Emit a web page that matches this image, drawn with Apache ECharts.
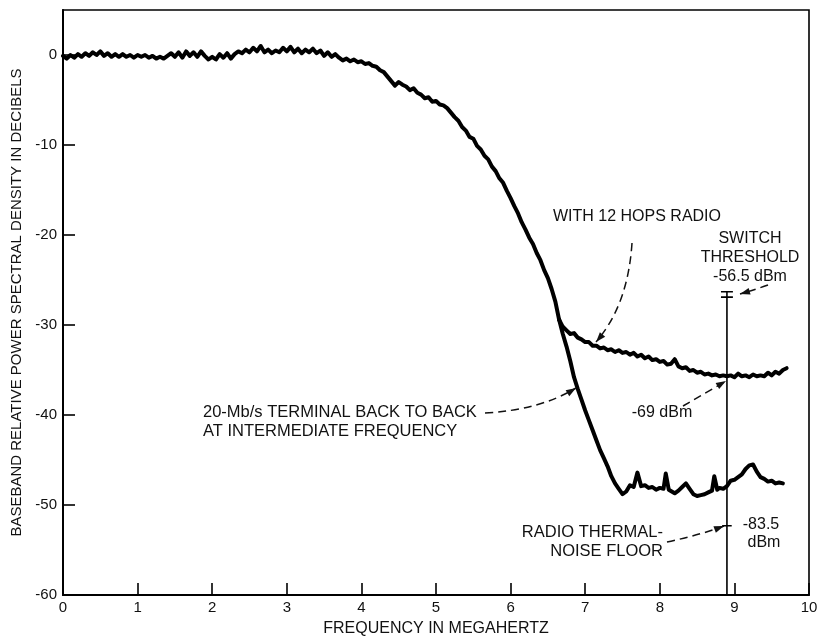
<!DOCTYPE html>
<html>
<head>
<meta charset="utf-8">
<script src="https://cdn.jsdelivr.net/npm/echarts@6/dist/echarts.min.js"></script>
<style>
html,body{margin:0;padding:0;background:#fff;}
#chart{width:819px;height:636px;}
</style>
</head>
<body>
<div id="chart"></div>
<script>
// ---- data (frequency MHz, relative PSD dB) ----
var commonFreq = [0.00,0.05,0.10,0.15,0.20,0.25,0.30,0.35,0.40,0.45,0.50,0.55,0.60,0.65,0.70,0.75,0.80,0.85,0.90,0.95,
1.00,1.05,1.10,1.15,1.20,1.25,1.30,1.35,1.40,1.45,1.50,1.55,1.60,1.65,1.70,1.75,1.80,1.85,1.90,1.95,
2.00,2.05,2.10,2.15,2.20,2.25,2.30,2.35,2.40,2.45,2.50,2.55,2.60,2.65,2.70,2.75,2.80,2.85,2.90,2.95,
3.00,3.05,3.10,3.15,3.20,3.25,3.30,3.35,3.40,3.45,3.50,3.55,3.60,3.65,3.70,3.75,3.80,3.85,3.90,3.95,
4.00,4.05,4.10,4.15,4.20,4.25,4.30,4.35,4.40,4.45,4.50,4.55,4.60,4.65,4.70,4.75,4.80,4.85,4.90,4.95,
5.00,5.05,5.10,5.15,5.20,5.25,5.30,5.35,5.40,5.45,5.50,5.55,5.60,5.65,5.70,5.75,5.80,5.85,5.90,5.95,
6.00,6.05,6.10,6.15,6.20,6.25,6.30,6.35,6.40,6.45,6.50,6.55,6.60,6.65];
var commonDb = [-0.1,-0.4,0.0,-0.3,0.1,-0.2,0.2,-0.1,0.3,0.0,0.4,-0.1,0.2,-0.2,0.1,-0.2,0.1,-0.2,0.0,-0.3,
0.0,-0.2,0.0,-0.3,-0.1,-0.4,-0.2,-0.4,-0.1,0.2,-0.2,0.3,-0.3,0.4,-0.1,0.3,-0.2,0.4,-0.1,-0.5,
-0.2,-0.5,0.1,-0.3,0.2,-0.4,0.1,0.4,0.2,0.6,0.3,0.8,0.4,1.0,0.3,0.6,0.2,0.5,0.3,0.8,
0.4,0.9,0.3,0.7,0.2,0.6,0.3,0.7,0.2,0.5,-0.1,0.3,-0.2,0.1,-0.3,-0.6,-0.4,-0.7,-0.5,-0.8,
-0.7,-1.0,-0.9,-1.2,-1.3,-1.7,-1.9,-2.4,-2.9,-3.4,-3.0,-3.3,-3.5,-3.9,-3.7,-4.2,-4.4,-4.8,-4.7,-5.2,
-5.1,-5.5,-5.6,-5.9,-6.4,-6.9,-7.3,-8.0,-8.4,-9.1,-9.3,-10.1,-10.5,-11.2,-11.6,-12.4,-12.9,-13.7,-14.2,-15.1,
-15.9,-16.8,-17.6,-18.6,-19.4,-20.3,-21.0,-22.0,-22.8,-23.9,-24.8,-26.0,-27.4,-29.4];

var hopsFreq = [6.65,6.70,6.75,6.80,6.85,6.90,6.95,7.00,7.05,7.10,7.15,7.20,7.25,7.30,7.35,7.40,7.45,7.50,7.55,7.60,
7.65,7.70,7.75,7.80,7.85,7.90,7.95,8.00,8.05,8.10,8.15,8.20,8.25,8.30,8.35,8.40,8.45,8.50,8.55,8.60,
8.65,8.70,8.75,8.80,8.85,8.90,8.95,9.00,9.05,9.10,9.15,9.20,9.25,9.30,9.35,9.40,9.45,9.50,9.55,9.60,9.65,9.70];
var hopsDb = [-29.4,-30.2,-30.6,-31.0,-30.9,-31.4,-31.6,-31.9,-31.9,-32.3,-32.3,-32.6,-32.5,-32.8,-32.7,-33.0,-32.8,-33.1,-33.0,-33.3,
-33.1,-33.5,-33.3,-33.7,-33.5,-33.9,-33.8,-34.1,-34.0,-34.4,-34.3,-33.8,-34.6,-34.8,-34.7,-35.1,-35.0,-35.3,-35.2,-35.5,
-35.4,-35.6,-35.5,-35.7,-35.6,-35.7,-35.6,-35.8,-35.4,-35.7,-35.6,-35.8,-35.5,-35.7,-35.6,-35.7,-35.3,-35.6,-35.2,-35.4,-35.0,-34.8];

var b2bFreq = [6.65,6.70,6.75,6.80,6.85,6.90,6.95,7.00,7.05,7.10,7.15,7.20,7.25,7.30,7.35,7.40,7.45,7.50,7.55,7.60,
7.65,7.70,7.75,7.80,7.85,7.90,7.95,8.00,8.05,8.08,8.12,8.20,8.25,8.30,8.35,8.40,8.45,8.50,8.55,8.60,
8.65,8.70,8.73,8.77,8.80,8.85,8.90,8.95,9.00,9.05,9.10,9.15,9.20,9.25,9.30,9.35,9.40,9.45,9.50,9.55,9.60,9.65];
var b2bDb = [-29.4,-31.0,-32.4,-34.0,-35.8,-37.1,-38.3,-39.5,-40.6,-41.7,-42.8,-43.9,-44.8,-45.7,-46.8,-47.6,-48.2,-48.8,-48.5,-47.8,
-48.0,-46.4,-47.9,-47.8,-48.1,-48.0,-48.3,-48.1,-48.2,-46.5,-48.3,-48.7,-48.4,-48.0,-47.6,-48.2,-48.8,-49.0,-48.9,-48.8,
-48.6,-48.4,-46.8,-48.3,-48.1,-48.2,-47.9,-47.3,-47.2,-46.9,-46.6,-46.0,-45.6,-45.5,-46.3,-46.9,-47.1,-47.4,-47.3,-47.6,-47.5,-47.6];

// switch marker (frequency, threshold cap levels, thermal noise level)
var switchFreq = 8.9;
var switchCaps = [-26.3, -26.9];
var noiseFloorLevel = -52.3;
var capHalfWidth = 0.08;

var xTicks = [0,1,2,3,4,5,6,7,8,9,10];
var yTicks = [-60,-50,-40,-30,-20,-10,0];

function zip(a, b){ return a.map(function(v,i){ return [v, b[i]]; }); }

var chart = echarts.init(document.getElementById('chart'));
var FONT = 'Liberation Sans, Arial, Helvetica, sans-serif';
var traceStyle = {color:'#000', width:4, join:'round', cap:'round'};

var series = [
  {type:'line', data: zip(commonFreq, commonDb), showSymbol:false, lineStyle:traceStyle, silent:true, z:5},
  {type:'line', data: zip(hopsFreq, hopsDb), showSymbol:false, lineStyle:traceStyle, silent:true, z:5},
  {type:'line', data: zip(b2bFreq, b2bDb), showSymbol:false, lineStyle:traceStyle, silent:true, z:5},
  {type:'line', data: [[switchFreq, switchCaps[0]],[switchFreq, -60]], showSymbol:false,
   lineStyle:{color:'#000', width:1.6}, silent:true, z:4}
];
switchCaps.forEach(function(c){
  series.push({type:'line', data:[[switchFreq-capHalfWidth, c],[switchFreq+capHalfWidth, c]], showSymbol:false,
    lineStyle:{color:'#000', width:1.6}, silent:true, z:4});
});
series.push({type:'line', data:[[switchFreq-capHalfWidth*0.8, noiseFloorLevel],[switchFreq+capHalfWidth*0.8, noiseFloorLevel]], showSymbol:false,
    lineStyle:{color:'#000', width:1.6}, silent:true, z:4});

chart.setOption({
  animation:false,
  backgroundColor:'#fff',
  grid:{left:63, right:10, top:10, bottom:41, show:true, borderColor:'#000', borderWidth:1.6,
        containLabel:false, outerBoundsMode:'none'},
  xAxis:{
    type:'value', min:xTicks[0], max:xTicks[xTicks.length-1], interval:1,
    name:'FREQUENCY IN MEGAHERTZ', nameLocation:'middle', nameGap:26,
    nameTextStyle:{fontFamily:FONT, fontSize:16, color:'#111'},
    axisLine:{show:true, onZero:false, lineStyle:{color:'#000', width:2}},
    axisTick:{show:true, inside:true, length:12, lineStyle:{color:'#000', width:1.6}},
    axisLabel:{fontFamily:FONT, fontSize:15, color:'#111', margin:5},
    splitLine:{show:false}
  },
  yAxis:{
    type:'value', min:yTicks[0], max:5, interval:10,
    name:'BASEBAND RELATIVE POWER SPECTRAL DENSITY IN DECIBELS', nameLocation:'middle', nameGap:39, nameRotate:90,
    nameTextStyle:{fontFamily:FONT, fontSize:15, color:'#111'},
    axisLine:{show:true, onZero:false, lineStyle:{color:'#000', width:2}},
    axisTick:{show:true, inside:true, length:12, lineStyle:{color:'#000', width:1.6}},
    axisLabel:{fontFamily:FONT, fontSize:15, color:'#111', margin:6, showMaxLabel:false,
      formatter:function(v){ return yTicks.indexOf(v) >= 0 ? String(v) : ''; }},
    splitLine:{show:false}
  },
  series: series
});

// ---- annotations (pixel layout) ----
function txt(x, y, s, align, size){
  return {type:'text', x:x, y:y, z:20, silent:true,
    style:{text:s, fill:'#111', font:(size||16)+'px '+FONT, align:align||'left', verticalAlign:'middle'}};
}
function arrow(p0, c, p1){
  var els = [];
  els.push({type:'bezierCurve', z:20, silent:true,
    shape:{x1:p0[0], y1:p0[1], x2:p1[0], y2:p1[1], cpx1:c[0], cpy1:c[1]},
    style:{stroke:'#111', lineWidth:1.5, lineDash:[8,5], fill:null}});
  var dx = p1[0]-c[0], dy = p1[1]-c[1], L = Math.sqrt(dx*dx+dy*dy);
  dx/=L; dy/=L;
  var len = 10, hw = 3.5;
  var bx = p1[0]-dx*len, by = p1[1]-dy*len;
  els.push({type:'polygon', z:21, silent:true,
    shape:{points:[[p1[0],p1[1]],[bx - dy*hw, by + dx*hw],[bx + dy*hw, by - dx*hw]]},
    style:{fill:'#111'}});
  return els;
}
var g = [];
g.push(txt(637, 217, 'WITH 12 HOPS RADIO', 'center', 16));
g.push(txt(750, 239, 'SWITCH', 'center', 16));
g.push(txt(750, 258, 'THRESHOLD', 'center', 16));
g.push(txt(750, 277, '-56.5 dBm', 'center', 16));
g.push(txt(203, 412, '20-Mb/s TERMINAL BACK TO BACK', 'left', 16.5));
g.push(txt(203, 431, 'AT INTERMEDIATE FREQUENCY', 'left', 16.5));
g.push(txt(662, 413, '-69 dBm', 'center', 16));
g.push(txt(663, 532, 'RADIO THERMAL-', 'right', 16.5));
g.push(txt(663, 551, 'NOISE FLOOR', 'right', 16.5));
g.push(txt(761, 525, '-83.5', 'center', 16));
g.push(txt(764, 543, 'dBm', 'center', 16));
g = g.concat(arrow([632,243],[628,305],[596,342]));
g = g.concat(arrow([485,413],[540,410],[576,388]));
g = g.concat(arrow([683,406],[704,394],[726,381]));
g = g.concat(arrow([768,285],[754,290],[740,294]));
g = g.concat(arrow([667,542],[700,535],[724,526]));
chart.setOption({graphic:g});
</script>
</body>
</html>
